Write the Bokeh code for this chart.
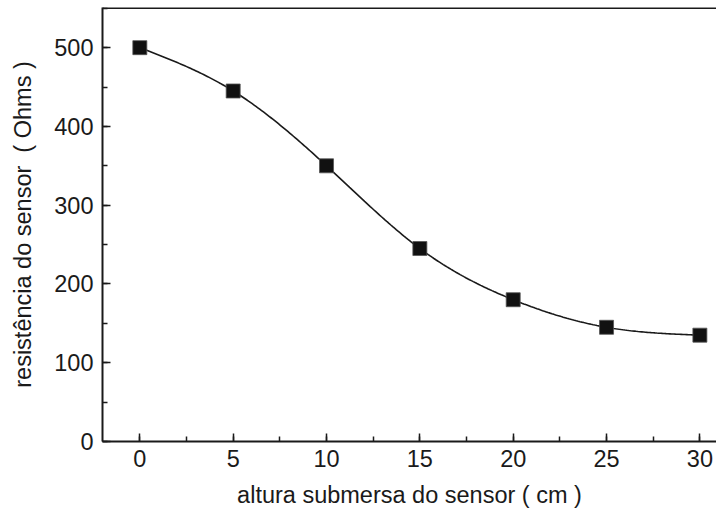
import numpy as np
from bokeh.plotting import figure
from bokeh.models import Range1d, SingleIntervalTicker, Span
from bokeh.embed import file_html
from bokeh.resources import INLINE

# data
height_cm = [0, 5, 10, 15, 20, 25, 30]
resistance_ohm = [500, 445, 350, 245, 180, 145, 135]
x_title = "altura submersa do sensor ( cm )"
y_title = "resistência do sensor \u00a0( Ohms )"


def natural_spline(x, y, n=300):
    x = np.asarray(x, float)
    y = np.asarray(y, float)
    k = len(x)
    h = np.diff(x)
    A = np.zeros((k, k))
    b = np.zeros(k)
    A[0, 0] = 1
    A[-1, -1] = 1
    for i in range(1, k - 1):
        A[i, i - 1] = h[i - 1]
        A[i, i] = 2 * (h[i - 1] + h[i])
        A[i, i + 1] = h[i]
        b[i] = 6 * ((y[i + 1] - y[i]) / h[i] - (y[i] - y[i - 1]) / h[i - 1])
    M = np.linalg.solve(A, b)
    xs = np.linspace(x[0], x[-1], n)
    ys = np.empty_like(xs)
    for j, t in enumerate(xs):
        i = min(np.searchsorted(x, t, side="right") - 1, k - 2)
        dx1 = x[i + 1] - t
        dx0 = t - x[i]
        ys[j] = (M[i] * dx1 ** 3 / (6 * h[i]) + M[i + 1] * dx0 ** 3 / (6 * h[i])
                 + (y[i] / h[i] - M[i] * h[i] / 6) * dx1
                 + (y[i + 1] / h[i] - M[i + 1] * h[i] / 6) * dx0)
    return xs, ys


FONT = "Liberation Sans"
INK = "#1a1a1a"

p = figure(width=716, height=518, output_backend="svg", toolbar_location=None,
           x_range=Range1d(-2, 30.89), y_range=Range1d(0, 551),
           min_border_left=102, min_border_right=0, min_border_top=7, min_border_bottom=77)
p.outline_line_color = None
p.background_fill_color = "white"
p.border_fill_color = "white"
p.xgrid.visible = False
p.ygrid.visible = False

p.xaxis.ticker = SingleIntervalTicker(interval=5, num_minor_ticks=2)
p.yaxis.ticker = SingleIntervalTicker(interval=100, num_minor_ticks=2)

for ax in (p.xaxis[0], p.yaxis[0]):
    ax.axis_line_width = 2
    ax.axis_line_color = INK
    ax.major_tick_line_color = INK
    ax.minor_tick_line_color = INK
    ax.major_tick_line_width = 1.5
    ax.minor_tick_line_width = 1.5
    ax.major_tick_in = 8
    ax.major_tick_out = 0
    ax.minor_tick_in = 5
    ax.minor_tick_out = 0
    ax.major_label_text_font = FONT
    ax.major_label_text_font_size = "23.5px"
    ax.major_label_text_color = INK
    ax.axis_label_text_font = FONT
    ax.axis_label_text_font_size = "23.5px"
    ax.axis_label_text_font_style = "normal"
    ax.axis_label_text_color = INK

p.xaxis.axis_label = x_title
p.yaxis.axis_label = y_title
p.xaxis.major_label_standoff = 8
p.yaxis.major_label_standoff = 9
p.xaxis.axis_label_standoff = 12
p.yaxis.axis_label_standoff = 15

p.add_layout(Span(location=551, dimension="width", line_color=INK, line_width=3))

xs, ys = natural_spline(height_cm, resistance_ohm)
p.line(xs, ys, line_color=INK, line_width=1.6)
p.scatter(height_cm, resistance_ohm, marker="square", size=14,
          fill_color="#111111", line_color="#555555", line_width=0.8)

open("out.html", "w").write(file_html(p, INLINE))
